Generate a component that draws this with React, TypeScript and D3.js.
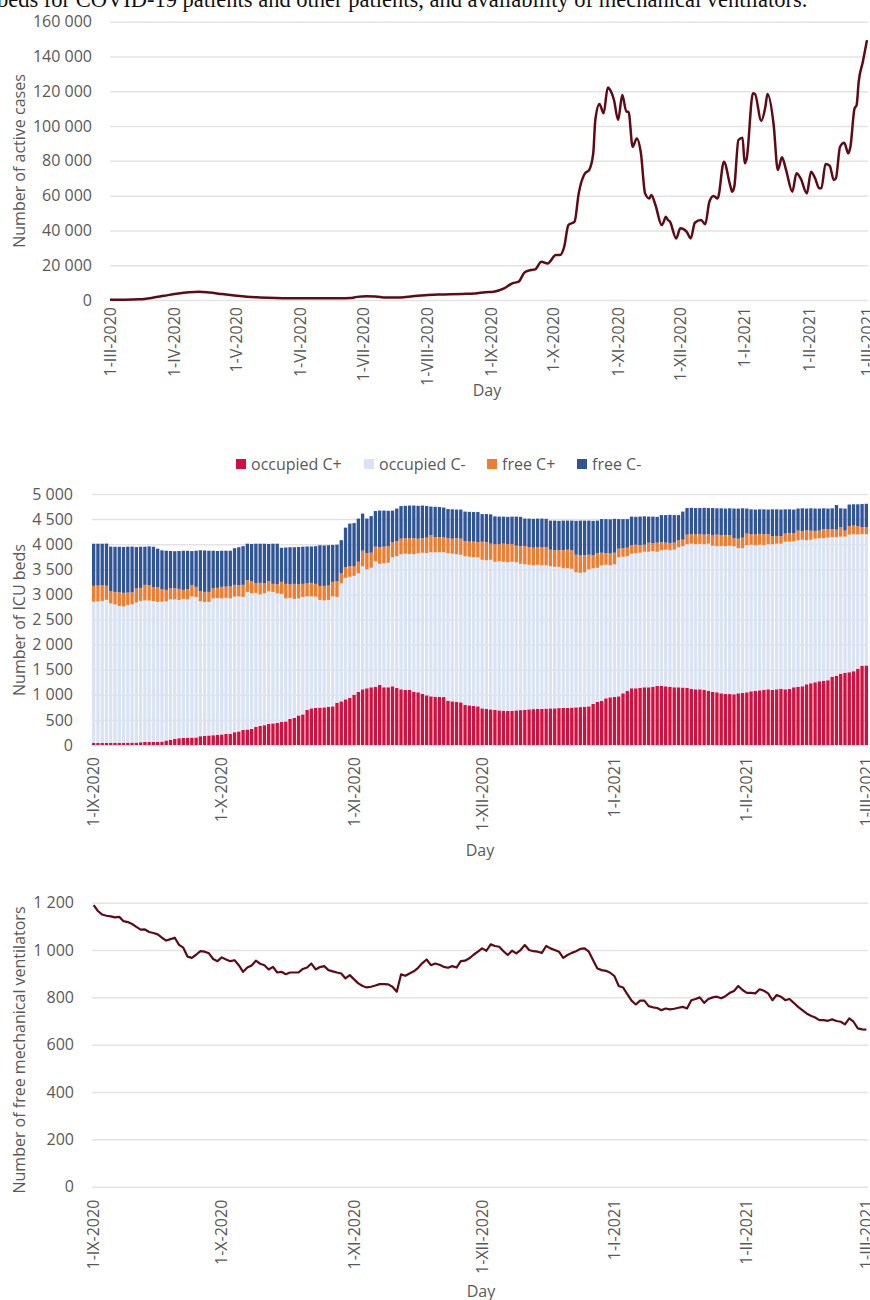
import React, { useEffect, useRef } from 'react'
import * as d3 from 'd3'

const W = 870
const H = 1300
const FONT = "'Open Sans', sans-serif"
const GREY = '#595959'
const GRID = '#e3e3e3'
const LINE = '#5e0b16'

const title = 'beds for COVID-19 patients and other patients, and availability of mechanical ventilators.'

// ---- chart 1: active cases, day offset from 1-III-2020
const activeStart = new Date(2020, 2, 1)
const activeDay = [0, 7, 14, 20, 26, 32, 38, 43, 48, 54, 60, 66, 72, 80, 90, 100, 110, 116, 119, 124, 128, 133, 140, 146, 152, 158, 164, 170, 176, 181, 185, 190, 194, 197, 200, 203, 205, 208, 211, 215, 217, 219, 221, 224, 226, 229, 231, 233, 234, 236, 238, 240, 241, 243, 245, 247, 249, 250, 252, 254, 256, 258, 260, 261, 263, 266, 267, 268, 269, 270, 273, 275, 278, 280, 282, 285, 287, 289, 291, 293, 296, 299, 300, 301, 303, 305, 306, 307, 310, 311, 314, 316, 317, 320, 322, 324, 326, 329, 331, 333, 336, 338, 340, 342, 343, 345, 347, 349, 350, 352, 354, 356, 357, 359, 360, 361, 363, 365]
const activeCases = [100, 150, 400, 1200, 2400, 3600, 4500, 4800, 4300, 3400, 2600, 1900, 1500, 1150, 1000, 950, 980, 1100, 1800, 2100, 2000, 1400, 1500, 2200, 2800, 3100, 3250, 3500, 3800, 4500, 4800, 6700, 9600, 10500, 16000, 17200, 17600, 22000, 21000, 25900, 25900, 30600, 43100, 45000, 61300, 72800, 74700, 84300, 103500, 112700, 107300, 122200, 121100, 115000, 103500, 117800, 108300, 108300, 88100, 92900, 84300, 61300, 58400, 60400, 54600, 43100, 45000, 47900, 46000, 45000, 35400, 41200, 39300, 35400, 44400, 46000, 43500, 56500, 59800, 58400, 79500, 66100, 62300, 65100, 92000, 93300, 78600, 81400, 118800, 118400, 103100, 111100, 118400, 100600, 74700, 82000, 74700, 62300, 72800, 69900, 61300, 73800, 69900, 64200, 64200, 78200, 77200, 69000, 69900, 88100, 90400, 84300, 88100, 110200, 112100, 125500, 137000, 149400]
const activeTickLabels = ['1-III-2020', '1-IV-2020', '1-V-2020', '1-VI-2020', '1-VII-2020', '1-VIII-2020', '1-IX-2020', '1-X-2020', '1-XI-2020', '1-XII-2020', '1-I-2021', '1-II-2021', '1-III-2021']
const activeYTicks = [0, 20000, 40000, 60000, 80000, 100000, 120000, 140000, 160000]

// ---- charts 2 and 3: daily, 1-IX-2020 .. 1-III-2021
const dayLabels = ['1-IX-2020', '1-X-2020', '1-XI-2020', '1-XII-2020', '1-I-2021', '1-II-2021', '1-III-2021']
const dayLabelIndex = [0, 30, 61, 91, 122, 153, 181]

const bedKeys = ['occupied C+', 'occupied C-', 'free C+', 'free C-']
const bedColors = ['#d2103f', '#dae3f3', '#ed7d31', '#2f5597']
const bedYTicks = [0, 500, 1000, 1500, 2000, 2500, 3000, 3500, 4000, 4500, 5000]

const occupiedCPlus = [40, 40, 40, 42, 42, 44, 44, 45, 46, 47,
  48, 55, 60, 62, 64, 66, 68, 90, 105, 120,
  135, 140, 145, 148, 150, 175, 185, 190, 195, 200,
  210, 220, 225, 255, 270, 300, 310, 320, 360, 380,
  395, 420, 430, 440, 460, 470, 520, 540, 590, 610,
  700, 730, 740, 745, 750, 760, 770, 840, 870, 910,
  940, 1000, 1060, 1110, 1130, 1150, 1160, 1200, 1150, 1150,
  1170, 1140, 1110, 1100, 1100, 1060, 1050, 1020, 990, 970,
  960, 960, 955, 880, 870, 860, 850, 800, 790, 780,
  770, 730, 720, 710, 700, 690, 685, 680, 680, 690,
  695, 700, 710, 715, 720, 720, 725, 730, 730, 735,
  740, 740, 745, 750, 755, 760, 770, 820, 860, 880,
  930, 950, 960, 970, 1030, 1080, 1130, 1130, 1140, 1150,
  1150, 1160, 1175, 1180, 1170, 1160, 1150, 1150, 1145, 1140,
  1120, 1110, 1110, 1100, 1080, 1060, 1050, 1030, 1020, 1015,
  1010, 1030, 1040, 1050, 1070, 1080, 1090, 1100, 1110, 1100,
  1110, 1120, 1110, 1120, 1150, 1160, 1170, 1210, 1230, 1250,
  1270, 1280, 1290, 1360, 1380, 1420, 1440, 1450, 1470, 1520,
  1580, 1585]
const occupiedCMinus = [2815, 2820, 2830, 2850, 2780, 2755, 2725, 2715, 2745, 2755,
  2790, 2815, 2820, 2815, 2805, 2785, 2785, 2770, 2795, 2780,
  2755, 2770, 2755, 2810, 2800, 2685, 2665, 2660, 2725, 2725,
  2710, 2710, 2695, 2700, 2690, 2650, 2740, 2700, 2670, 2620,
  2625, 2640, 2620, 2580, 2550, 2450, 2410, 2370, 2330, 2340,
  2260, 2230, 2215, 2145, 2130, 2130, 2190, 2110, 2350, 2420,
  2410, 2370, 2360, 2450, 2370, 2380, 2500, 2410, 2470, 2480,
  2570, 2620, 2690, 2710, 2705, 2740, 2770, 2810, 2835, 2870,
  2880, 2880, 2885, 2940, 2940, 2940, 2940, 2960, 2960, 2960,
  2970, 2960, 2960, 2980, 2950, 2970, 2965, 2960, 2970, 2950,
  2915, 2900, 2880, 2865, 2870, 2860, 2855, 2830, 2820, 2815,
  2780, 2780, 2765, 2690, 2675, 2680, 2730, 2700, 2670, 2700,
  2660, 2630, 2640, 2770, 2720, 2680, 2680, 2690, 2690, 2700,
  2700, 2700, 2675, 2700, 2720, 2720, 2740, 2790, 2815, 2860,
  2890, 2890, 2895, 2900, 2930, 2910, 2910, 2935, 2940, 2955,
  2950, 2890, 2880, 2930, 2920, 2900, 2900, 2885, 2890, 2900,
  2900, 2890, 2940, 2930, 2910, 2920, 2920, 2870, 2860, 2860,
  2850, 2840, 2840, 2780, 2760, 2730, 2710, 2740, 2730, 2675,
  2620, 2615]
const freeCPlus = [315, 315, 310, 280, 240, 250, 270, 270, 245, 240,
  280, 260, 310, 305, 270, 290, 245, 230, 220, 220,
  220, 180, 200, 230, 200, 200, 200, 200, 200, 205,
  230, 225, 240, 235, 225, 240, 230, 240, 190, 230,
  200, 200, 160, 180, 240, 290, 270, 300, 280, 260,
  260, 270, 255, 280, 290, 285, 290, 310, 200, 210,
  210, 190, 230, 310, 320, 300, 290, 330, 330, 330,
  300, 300, 310, 310, 310, 320, 290, 290, 305, 340,
  300, 300, 300, 300, 300, 320, 320, 300, 300, 310,
  300, 360, 360, 320, 350, 340, 360, 360, 355, 330,
  350, 365, 350, 350, 350, 355, 360, 330, 330, 335,
  360, 370, 370, 350, 350, 340, 290, 260, 290, 250,
  230, 235, 230, 170, 170, 170, 170, 170, 155, 140,
  180, 160, 180, 160, 140, 145, 140, 140, 130, 190,
  190, 195, 195, 190, 190, 210, 230, 215, 225, 210,
  160, 190, 210, 230, 210, 215, 215, 215, 200, 160,
  155, 150, 160, 170, 155, 190, 170, 195, 180, 155,
  150, 180, 165, 160, 150, 190, 120, 170, 170, 165,
  140, 140]
const freeCMinus = [840, 835, 830, 840, 890, 900, 910, 915, 915, 910,
  825, 820, 760, 775, 810, 770, 780, 780, 745, 740,
  755, 780, 770, 675, 720, 820, 825, 820, 750, 735,
  720, 715, 710, 730, 755, 770, 730, 745, 790, 780,
  790, 745, 800, 810, 680, 725, 740, 730, 745, 740,
  735, 725, 750, 810, 805, 805, 735, 730, 660, 790,
  850, 860, 860, 740, 690, 730, 710, 730, 720, 705,
  630, 650, 650, 645, 655, 650, 655, 650, 630, 570,
  605, 600, 590, 580, 585, 570, 580, 590, 595, 590,
  600, 550, 560, 585, 555, 550, 540, 545, 545, 580,
  585, 545, 570, 575, 570, 575, 565, 580, 590, 580,
  590, 580, 590, 675, 690, 690, 680, 685, 650, 670,
  680, 680, 675, 590, 580, 570, 570, 555, 565, 565,
  520, 530, 515, 540, 550, 560, 550, 500, 560, 530,
  525, 525, 520, 535, 520, 540, 525, 535, 525, 535,
  590, 600, 585, 500, 495, 495, 490, 495, 490, 535,
  530, 530, 485, 475, 475, 440, 455, 435, 445, 445,
  440, 415, 415, 415, 490, 375, 440, 430, 425, 435,
  460, 465]

const ventYTicks = [0, 200, 400, 600, 800, 1000, 1200]
const freeVentilators = [1190, 1165, 1150, 1145, 1142, 1138, 1140, 1122, 1118, 1110,
  1098, 1086, 1087, 1076, 1072, 1066, 1052, 1040, 1046, 1052,
  1022, 1010, 972, 967, 980, 995, 993, 986, 962, 953,
  969, 960, 953, 957, 936, 908, 926, 935, 955, 942,
  936, 918, 929, 905, 908, 898, 905, 905, 906, 920,
  926, 943, 918, 928, 932, 915, 910, 905, 901, 880,
  894, 876, 859, 848, 842, 845, 850, 856, 856, 855,
  845, 824, 897, 891, 901, 910, 925, 945, 960, 936,
  943, 938, 929, 925, 932, 926, 953, 955, 965, 980,
  993, 1007, 997, 1024, 1017, 1014, 995, 979, 997, 986,
  1000, 1021, 1000, 995, 993, 988, 1017, 1007, 1000, 993,
  967, 979, 988, 995, 1005, 1007, 993, 957, 922, 915,
  912, 904, 890, 848, 842, 814, 786, 770, 786, 786,
  763, 758, 755, 746, 753, 749, 752, 756, 760, 753,
  788, 793, 800, 777, 793, 800, 803, 796, 805, 819,
  827, 848, 831, 819, 819, 817, 834, 828, 817, 788,
  810, 803, 788, 793, 777, 760, 746, 732, 722, 715,
  704, 704, 701, 707, 700, 697, 686, 711, 697, 669,
  665, 664]

const fmt = (v: number) => d3.format(',')(v).replace(/,/g, ' ')

function yAxis(g: any, y: any, ticks: number[], width: number, pad: number) {
  g.call(d3.axisLeft(y).tickValues(ticks).tickSize(-width).tickPadding(pad).tickFormat((d: any) => fmt(d)))
  g.select('.domain').remove()
  g.selectAll('line').attr('stroke', GRID).attr('stroke-width', 1.5)
  g.selectAll('text').attr('fill', GREY).style('font-size', '16px').style('font-family', FONT)
}

function xLabels(g: any, xs: number[], labels: string[], gap: number) {
  g.selectAll('text.xl')
    .data(labels)
    .join('text')
    .attr('class', 'xl')
    .attr('transform', (d: string, i: number) => `translate(${xs[i]},${gap}) rotate(-90)`)
    .attr('text-anchor', 'end')
    .attr('dy', '0.35em')
    .attr('fill', GREY)
    .style('font-size', '16px')
    .text((d: string) => d)
}

function axisTitles(svg: any, yTitle: string, yMid: number, dayX: number, dayY: number) {
  svg.append('text')
    .attr('transform', `translate(25,${yMid}) rotate(-90)`)
    .attr('text-anchor', 'middle')
    .attr('fill', GREY)
    .style('font-size', '16px')
    .text(yTitle)
  svg.append('text')
    .attr('x', dayX).attr('y', dayY)
    .attr('text-anchor', 'middle')
    .attr('fill', GREY)
    .style('font-size', '16px')
    .text('Day')
}

export default function App() {
  const ref = useRef<SVGSVGElement>(null)

  useEffect(() => {
    const svg = d3.select(ref.current)
    svg.selectAll('*').remove()
    svg.style('font-family', FONT)

    svg.append('rect').attr('width', W).attr('height', H).attr('fill', '#fff')

    svg.append('text')
      .attr('x', -3).attr('y', 7)
      .style('font-family', "'Liberation Serif', 'Times New Roman', serif")
      .style('font-size', '22.5px')
      .attr('fill', '#111')
      .text(title)

    // ---------- chart 1
    {
      const left = 110, right = 867, top = 21.7, bottom = 300
      const x = d3.scaleTime().domain([activeStart, d3.timeDay.offset(activeStart, 365)]).range([left, right])
      const y = d3.scaleLinear().domain([0, 160000]).range([bottom, top])
      const g = svg.append('g').attr('transform', `translate(${left},0)`)
      yAxis(g, y, activeYTicks, 868 - left, 18)

      const line = d3.line<number>()
        .x((d, i) => x(d3.timeDay.offset(activeStart, activeDay[i])))
        .y(d => y(d))
        .curve(d3.curveMonotoneX)
      svg.append('path')
        .datum(activeCases)
        .attr('d', line)
        .attr('fill', 'none')
        .attr('stroke', LINE)
        .attr('stroke-width', 2.5)
        .attr('stroke-linejoin', 'round')

      const ticks = d3.timeMonth.range(activeStart, d3.timeDay.offset(activeStart, 366))
      const lg = svg.append('g').attr('transform', `translate(0,${bottom})`)
      xLabels(lg, ticks.map(t => x(t)), activeTickLabels, 7)
      axisTitles(svg, 'Number of active cases', 161, 487, 396)
    }

    const band = d3.scaleBand<number>()
      .domain(d3.range(occupiedCPlus.length))
      .range([92, 868])
      .paddingInner(0.22)
    const cx = (i: number) => (band(i) as number) + band.bandwidth() / 2

    // ---------- chart 2
    {
      const top = 494, bottom = 745
      const y = d3.scaleLinear().domain([0, 5000]).range([bottom, top])
      const g = svg.append('g').attr('transform', 'translate(92,0)')
      yAxis(g, y, bedYTicks, 776, 19)

      const rows = occupiedCPlus.map((v, i) => ({
        'occupied C+': v,
        'occupied C-': occupiedCMinus[i],
        'free C+': freeCPlus[i],
        'free C-': freeCMinus[i],
        i,
      }))
      const stack = d3.stack<any>().keys(bedKeys)(rows)
      svg.append('g')
        .selectAll('g')
        .data(stack)
        .join('g')
        .attr('fill', (d, k) => bedColors[k])
        .selectAll('rect')
        .data(d => d)
        .join('rect')
        .attr('x', (d: any) => band(d.data.i) as number)
        .attr('width', band.bandwidth())
        .attr('y', (d: any) => y(d[1]))
        .attr('height', (d: any) => y(d[0]) - y(d[1]))

      const lg = svg.append('g').attr('transform', `translate(0,${bottom})`)
      xLabels(lg, dayLabelIndex.map(cx), dayLabels, 12)
      axisTitles(svg, 'Number of ICU beds', 620, 480, 856)

      // legend
      const legX = [236, 364, 487, 577]
      const leg = svg.append('g').selectAll('g').data(bedKeys).join('g')
        .attr('transform', (d, k) => `translate(${legX[k]},459)`)
      leg.append('rect').attr('width', 10).attr('height', 10).attr('fill', (d, k) => bedColors[k])
      leg.append('text').attr('x', 15).attr('y', 5).attr('dy', '0.35em')
        .attr('fill', GREY).style('font-size', '16px').text(d => d)
    }

    // ---------- chart 3
    {
      const top = 902.7, bottom = 1186.7
      const y = d3.scaleLinear().domain([0, 1200]).range([bottom, top])
      const g = svg.append('g').attr('transform', 'translate(92,0)')
      yAxis(g, y, ventYTicks, 776, 18)

      const line = d3.line<number>().x((d, i) => cx(i)).y(d => y(d))
      svg.append('path')
        .datum(freeVentilators)
        .attr('d', line)
        .attr('fill', 'none')
        .attr('stroke', LINE)
        .attr('stroke-width', 2.2)
        .attr('stroke-linejoin', 'round')

      const lg = svg.append('g').attr('transform', `translate(0,${bottom})`)
      xLabels(lg, dayLabelIndex.map(cx), dayLabels, 13)
      axisTitles(svg, 'Number of free mechanical ventilators', 1050, 481, 1297)
    }
  }, [])

  return (
    <svg ref={ref} width={W} height={H} style={{ position: 'absolute', left: 0, top: 0 }} />
  )
}
